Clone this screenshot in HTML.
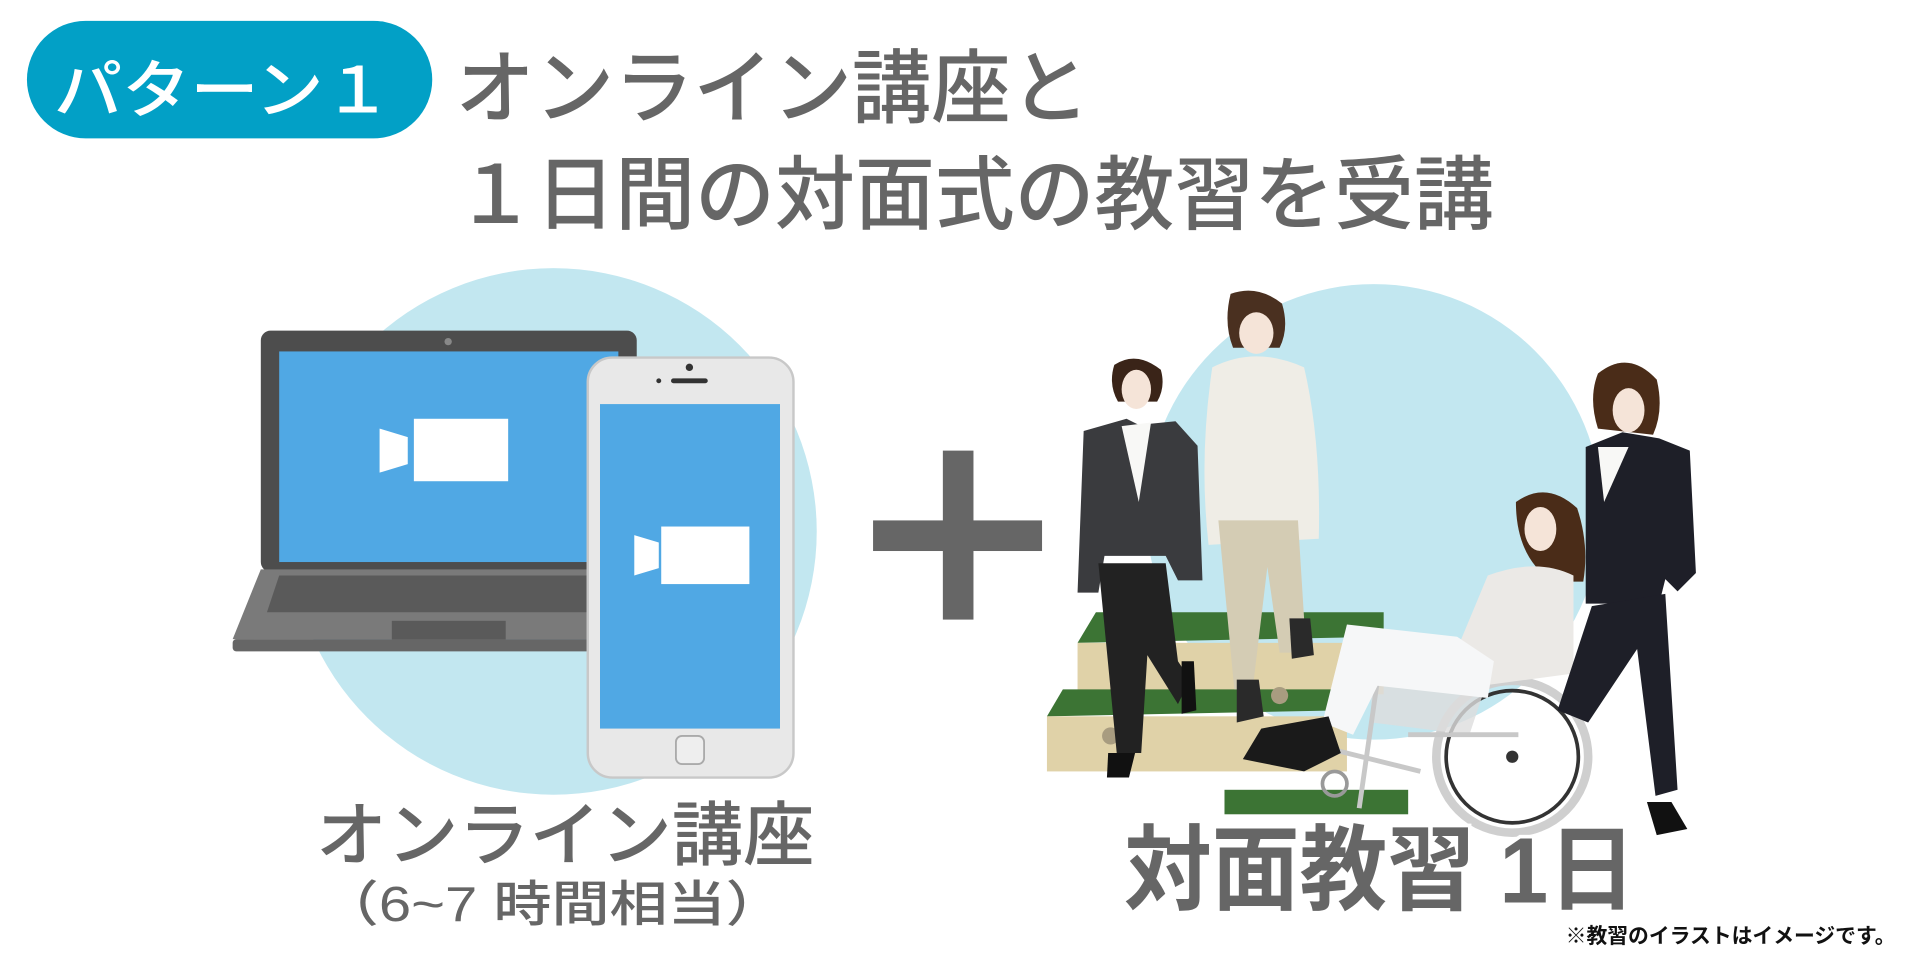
<!DOCTYPE html>
<html><head><meta charset="utf-8"><style>
html,body{margin:0;padding:0;background:#fff;}
svg{display:block;}
text{font-family:"Liberation Sans","Noto Sans CJK JP",sans-serif;}
</style></head><body>
<svg width="1920" height="960" viewBox="0 0 1568 784" xmlns="http://www.w3.org/2000/svg">
<rect width="1568" height="784" fill="#fff"/>
<!-- header -->
<rect x="22" y="17" width="331" height="96" rx="48" fill="#02a0c6"/>
<text x="44" y="92" font-size="52" font-weight="500" fill="#fff" textLength="276" lengthAdjust="spacingAndGlyphs">パターン１</text>
<text x="372" y="95" font-size="66" font-weight="500" fill="#666" textLength="518" lengthAdjust="spacingAndGlyphs">オンライン講座と</text>
<text x="372" y="182" font-size="66" font-weight="500" fill="#666" textLength="848" lengthAdjust="spacingAndGlyphs">１日間の対面式の教習を受講</text>

<!-- circles -->
<circle cx="452" cy="434" r="215" fill="#c2e7f0"/>
<circle cx="1122" cy="418" r="186" fill="#c2e7f0"/>

<!-- laptop -->
<rect x="213" y="270" width="307" height="197" rx="8" fill="#4d4d4d"/>
<rect x="228" y="287" width="277" height="172" fill="#50a8e4"/>
<circle cx="366" cy="279" r="3" fill="#888"/>
<polygon points="213,465 520,465 542,522 190,522" fill="#7a7a7a"/>
<polygon points="228,470 505,470 515,500 218,500" fill="#5a5a5a"/>
<rect x="320" y="507" width="93" height="18" fill="#5a5a5a"/>
<rect x="190" y="522" width="352" height="10" rx="3" fill="#666"/>
<rect x="338" y="342" width="77" height="51" fill="#fff"/>
<polygon points="310,350 333,357 333,379 310,386" fill="#fff"/>

<!-- phone -->
<rect x="480" y="292" width="168" height="343" rx="20" fill="#e8e8e8" stroke="#c8c8c8" stroke-width="2"/>
<rect x="490" y="330" width="147" height="265" fill="#50a8e4"/>
<circle cx="563" cy="300" r="3" fill="#333"/>
<rect x="548" y="309" width="30" height="4" rx="2" fill="#333"/>
<circle cx="538" cy="311" r="2" fill="#333"/>
<rect x="552" y="601" width="23" height="23" rx="5" fill="#eee" stroke="#aaa" stroke-width="1.5"/>
<rect x="540" y="430" width="72" height="47" fill="#fff"/>
<polygon points="518,437 538,443 538,464 518,470" fill="#fff"/>

<!-- plus -->
<rect x="713" y="425" width="138" height="25" fill="#666"/>
<rect x="770" y="368" width="25" height="138" fill="#666"/>

<!-- stairs -->
<polygon points="895,500 1130,500 1130,520 880,525" fill="#3c7434"/>
<rect x="880" y="525" width="250" height="42" fill="#e0d2a8"/>
<polygon points="868,563 1100,563 1100,580 855,585" fill="#3c7434"/>
<rect x="855" y="585" width="245" height="45" fill="#e0d2a8"/>
<circle cx="907" cy="601" r="7" fill="#a89c80"/>
<circle cx="1045" cy="568" r="7" fill="#a89c80"/>
<rect x="1000" y="645" width="150" height="20" fill="#3c7434"/>

<!-- woman 2 (white sweater) -->
<path d="M1005,240 q22,-8 42,8 q6,20 -2,36 l-38,0 q-8,-20 -2,-44z" fill="#4a3020"/>
<ellipse cx="1026" cy="272" rx="14" ry="17" fill="#f5e4d8"/>
<path d="M990,300 q35,-18 75,0 q14,60 12,140 l-90,5 q-8,-70 3,-145z" fill="#efede6"/>
<path d="M995,425 l65,0 l5,80 q-3,20 -8,28 l-12,0 l-10,-70 l-12,100 l-15,0 z" fill="#d4ccb4"/>
<path d="M1010,555 l18,0 l4,30 l-22,5 z" fill="#2a2a2a"/>
<path d="M1053,505 l17,0 l3,30 l-18,3 z" fill="#2a2a2a"/>

<!-- woman 1 (gray suit) -->
<path d="M910,298 q18,-12 38,4 q4,14 -3,26 l-32,0 q-8,-14 -3,-30z" fill="#3a2418"/>
<ellipse cx="928" cy="318" rx="12" ry="16" fill="#f5e4d8"/>
<path d="M885,352 l35,-10 l10,5 l30,-3 l18,20 l4,110 l-20,0 l-10,-20 l-50,0 l-5,30 l-17,0 z" fill="#3a3b3e"/>
<polygon points="916,348 940,345 930,410" fill="#f8f8f6"/>
<path d="M897,460 l55,0 l10,80 l10,15 l-10,20 l-25,-40 l-5,80 l-20,0 z" fill="#222"/>
<path d="M905,615 l22,0 l-5,20 l-18,0 z" fill="#111"/>
<path d="M965,540 l10,0 l2,40 l-12,3 z" fill="#111"/>

<!-- wheelchair -->
<circle cx="1235" cy="618" r="62" fill="none" stroke="#cfcfcf" stroke-width="7"/>
<circle cx="1235" cy="618" r="54" fill="none" stroke="#333" stroke-width="3"/>
<circle cx="1235" cy="618" r="5" fill="#333"/>
<path d="M1120,520 l100,20 l-20,60 l-80,-10 z" fill="#ddd" opacity="0.8"/>
<path d="M1080,610 l80,20 M1130,520 l-20,140 M1150,600 l90,0" stroke="#c8c8c8" stroke-width="4" fill="none"/>
<circle cx="1090" cy="640" r="10" fill="none" stroke="#999" stroke-width="3"/>

<!-- wheelchair woman -->
<path d="M1238,410 q25,-18 50,5 q10,30 5,60 l-25,0 q-30,-20 -30,-65z" fill="#4a2c18"/>
<ellipse cx="1258" cy="432" rx="13" ry="18" fill="#f5e4d8"/>
<path d="M1215,470 q40,-15 70,0 l0,80 l-75,10 q-30,-5 -50,-20 l30,-10 z" fill="#ebe9e6"/>
<path d="M1100,510 l90,10 l30,20 l-5,30 l-90,-10 l-20,40 l-25,-10 z" fill="#f6f7f8"/>
<path d="M1030,595 l55,-10 l10,30 l-30,15 l-50,-10 z" fill="#1a1a1a"/>

<!-- pusher woman -->
<path d="M1305,305 q25,-20 48,5 q6,25 -3,45 l-45,-5 q-8,-25 0,-45z" fill="#4a2c18"/>
<ellipse cx="1330" cy="335" rx="13" ry="18" fill="#f5e4d8"/>
<path d="M1295,365 l30,-12 l30,5 l25,10 l5,100 l-15,15 l-10,-10 l-5,20 l-60,0 z" fill="#1e1f28"/>
<polygon points="1305,365 1330,365 1310,410" fill="#f8f8f6"/>
<path d="M1300,495 l60,-10 l10,160 l-18,5 l-15,-120 l-40,60 l-25,-10 z" fill="#1e1f28"/>
<path d="M1345,655 l20,0 l13,22 l-25,5 z" fill="#111"/>

<!-- bottom texts -->
<text x="258" y="702" font-size="57" font-weight="500" fill="#666" textLength="407" lengthAdjust="spacingAndGlyphs">オンライン講座</text>
<text x="262" y="752" font-size="40" font-weight="500" fill="#666" textLength="378" lengthAdjust="spacingAndGlyphs">（6~7 時間相当）</text>
<text x="918" y="737" font-size="76" font-weight="bold" fill="#666" textLength="418" lengthAdjust="spacingAndGlyphs" stroke="#fff" stroke-width="6" paint-order="stroke">対面教習 1日</text>
<text x="1548" y="770" font-size="17" font-weight="bold" fill="#111" text-anchor="end">※教習のイラストはイメージです。</text>
</svg>
</body></html>
